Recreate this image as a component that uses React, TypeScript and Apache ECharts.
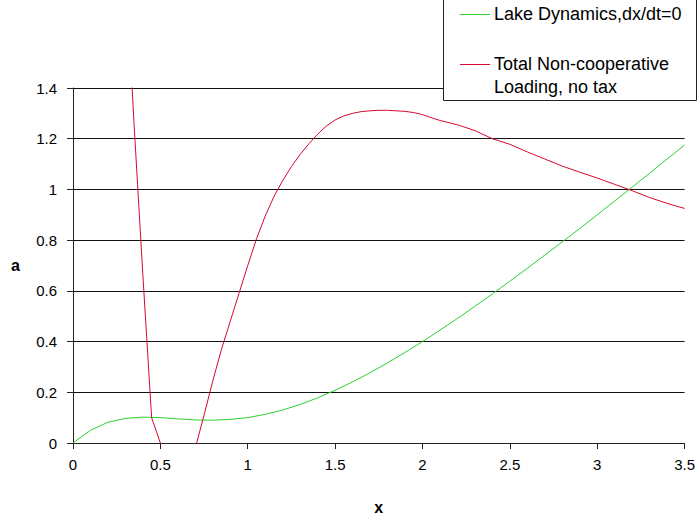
import React, { useEffect, useRef } from "react";
import * as echarts from "echarts";

const lakeX = [0, 0.1, 0.2, 0.3, 0.4, 0.5, 0.6, 0.7, 0.8, 0.9, 1.0, 1.1, 1.2, 1.3, 1.4, 1.5, 1.6, 1.7, 1.8, 1.9, 2.0, 2.1, 2.2, 2.3, 2.4, 2.5, 2.6, 2.7, 2.8, 2.9, 3.0, 3.1, 3.2, 3.3, 3.4, 3.5];
const lakeA = [0, 0.05, 0.082, 0.097, 0.102, 0.1, 0.095, 0.091, 0.09, 0.093, 0.1, 0.113, 0.13, 0.152, 0.178, 0.208, 0.241, 0.277, 0.316, 0.357, 0.4, 0.445, 0.491, 0.539, 0.588, 0.638, 0.689, 0.741, 0.793, 0.846, 0.9, 0.954, 1.009, 1.064, 1.12, 1.175];

const loadX = [0.3, 0.35, 0.4, 0.45, 0.5, 0.6, 0.7, 0.75, 0.8, 0.85, 0.9, 0.95, 1.0, 1.05, 1.1, 1.15, 1.2, 1.25, 1.3, 1.35, 1.4, 1.45, 1.5, 1.55, 1.6, 1.65, 1.7, 1.75, 1.8, 1.85, 1.9, 1.95, 2.0, 2.05, 2.1, 2.2, 2.3, 2.4, 2.5, 2.6, 2.7, 2.8, 2.9, 3.0, 3.1, 3.2, 3.3, 3.4, 3.5];
const loadA = [1.9, 1.25, 0.66, 0.1, 0, -0.1, -0.02, 0.11, 0.245, 0.37, 0.48, 0.59, 0.7, 0.805, 0.895, 0.972, 1.035, 1.09, 1.138, 1.18, 1.218, 1.25, 1.274, 1.29, 1.3, 1.307, 1.31, 1.312, 1.312, 1.31, 1.308, 1.303, 1.295, 1.283, 1.272, 1.255, 1.232, 1.2, 1.178, 1.148, 1.12, 1.092, 1.068, 1.045, 1.02, 0.995, 0.968, 0.945, 0.925];

const seriesNames = ["Lake Dynamics,dx/dt=0", "Total Non-cooperative", "Loading, no tax"];
const GREEN = "#2bd12b";
const RED = "#d6082e";
const FONT = "Liberation Sans, Arial, sans-serif";

export default function App() {
  const ref = useRef<HTMLDivElement>(null);
  useEffect(() => {
    if (!ref.current) return;
    const chart = echarts.init(ref.current, undefined, { renderer: "svg" });
    chart.setOption({
      animation: false,
      backgroundColor: "#fff",
      grid: { left: 73, right: 12, top: 88, bottom: 78, containLabel: false },
      xAxis: {
        type: "value",
        min: 0,
        max: 3.5,
        interval: 0.5,
        name: "x",
        nameLocation: "middle",
        nameGap: 56,
        nameTextStyle: { fontFamily: FONT, fontSize: 16, fontWeight: "bold", color: "#000" },
        axisLine: { show: true, lineStyle: { color: "#222", width: 1 } },
        axisTick: { show: true, inside: false, length: 6, lineStyle: { color: "#222" } },
        axisLabel: { margin: 14, fontFamily: FONT, fontSize: 15, color: "#000" },
        splitLine: { show: false },
      },
      yAxis: {
        type: "value",
        min: 0,
        max: 1.4,
        interval: 0.2,
        name: "a",
        nameLocation: "middle",
        nameRotate: 0,
        nameGap: 53,
        nameTextStyle: { fontFamily: FONT, fontSize: 16, fontWeight: "bold", color: "#000" },
        axisLine: { show: true, lineStyle: { color: "#222", width: 1 } },
        axisTick: { show: true, inside: false, length: 6, lineStyle: { color: "#222" } },
        axisLabel: { margin: 16, fontFamily: FONT, fontSize: 15, color: "#000" },
        splitLine: { show: true, lineStyle: { color: "#111", width: 1 } },
      },
      series: [
        {
          name: seriesNames[0],
          type: "line",
          data: lakeX.map((x, i) => [x, lakeA[i]]),
          showSymbol: false,
          smooth: false,
          clip: true,
          lineStyle: { color: GREEN, width: 1 },
          itemStyle: { color: GREEN },
        },
        {
          name: seriesNames[1] + " " + seriesNames[2],
          type: "line",
          data: loadX.map((x, i) => [x, loadA[i]]),
          showSymbol: false,
          smooth: false,
          clip: true,
          lineStyle: { color: RED, width: 1 },
          itemStyle: { color: RED },
        },
      ],
      graphic: [
        {
          type: "rect",
          shape: { x: 443.5, y: -1, width: 253, height: 101.5 },
          style: { fill: "#fff", stroke: "#222", lineWidth: 1 },
          z: 10,
        },
        {
          type: "line",
          shape: { x1: 460, y1: 14.5, x2: 490, y2: 14.5 },
          style: { stroke: GREEN, lineWidth: 1 },
          z: 11,
        },
        {
          type: "text",
          x: 494,
          y: 14,
          style: { text: seriesNames[0], fontFamily: FONT, fontSize: 18, fill: "#000", verticalAlign: "middle", align: "left" },
          z: 11,
        },
        {
          type: "line",
          shape: { x1: 460, y1: 64.5, x2: 490, y2: 64.5 },
          style: { stroke: RED, lineWidth: 1 },
          z: 11,
        },
        {
          type: "text",
          x: 494,
          y: 64,
          style: { text: seriesNames[1], fontFamily: FONT, fontSize: 18, fill: "#000", verticalAlign: "middle", align: "left" },
          z: 11,
        },
        {
          type: "text",
          x: 494,
          y: 87,
          style: { text: seriesNames[2], fontFamily: FONT, fontSize: 18, fill: "#000", verticalAlign: "middle", align: "left" },
          z: 11,
        },
      ],
    });
    return () => chart.dispose();
  }, []);
  return (
    <div
      ref={ref}
      style={{ position: "fixed", left: 0, top: 0, width: 698, height: 521, background: "#fff" }}
    />
  );
}
